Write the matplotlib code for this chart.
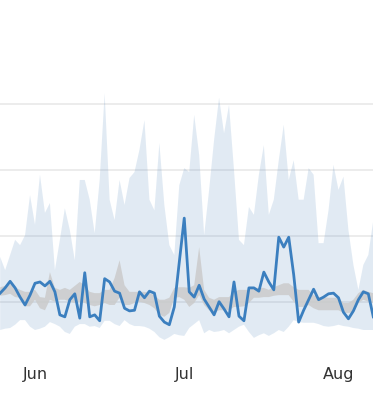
import numpy as np
import matplotlib
matplotlib.use("Agg")
import matplotlib.pyplot as plt
import matplotlib.dates as mdates

# daily series, starting 2023-05-25
start_date = "2023-05-25"
line_vals = [11.3, 12.1, 13.1, 12.1, 10.7, 9.5, 11.0, 12.8, 13.0, 12.4,
             13.1, 11.5, 8.0, 7.7, 10.3, 11.2, 7.5, 14.4, 7.7, 8.0,
             7.1, 13.5, 13.0, 11.6, 11.3, 9.0, 8.6, 8.7, 11.5, 10.6,
             11.6, 11.3, 7.8, 6.9, 6.5, 9.2, 16.0, 22.7, 11.5, 10.7,
             12.5, 10.4, 9.2, 8.0, 10.0, 8.9, 7.7, 13.0, 7.8, 7.1,
             12.1, 12.1, 11.6, 14.5, 13.0, 11.8, 19.8, 18.3, 19.8, 14.1,
             6.9, 8.7, 10.3, 11.9, 10.3, 10.7, 11.2, 11.3, 10.6, 8.4,
             7.4, 8.6, 10.3, 11.5, 11.2, 7.7]
band_hi = [16.8, 14.8, 17.1, 19.4, 18.6, 20.1, 26.2, 21.7, 29.3, 23.5,
           25.0, 14.8, 19.4, 24.2, 20.9, 16.3, 28.5, 28.5, 25.5, 20.4,
           28.5, 41.7, 25.5, 22.4, 28.5, 24.7, 28.8, 29.7, 33.1, 37.6,
           25.5, 23.9, 34.1, 24.7, 18.6, 17.1, 27.7, 30.3, 29.7, 38.4,
           32.3, 20.1, 27.0, 34.6, 41.0, 35.6, 39.9, 30.0, 19.4, 18.6,
           24.4, 23.2, 29.3, 33.8, 23.2, 25.5, 31.5, 36.9, 28.5, 31.5,
           25.5, 25.5, 30.3, 29.3, 18.9, 18.9, 23.9, 30.8, 27.0, 29.0,
           20.9, 15.6, 11.8, 15.6, 17.1, 22.4]
band_lo = [5.7, 5.9, 6.0, 6.5, 7.2, 7.2, 6.2, 5.7, 5.9, 6.2,
           6.9, 6.6, 6.2, 5.4, 5.1, 6.2, 6.6, 6.6, 6.2, 6.3,
           6.0, 7.1, 7.1, 6.6, 6.3, 7.2, 6.6, 6.3, 6.3, 6.2,
           5.9, 5.4, 4.6, 4.2, 4.6, 5.1, 4.9, 4.8, 6.0, 6.6,
           7.2, 5.2, 5.7, 5.4, 5.5, 5.7, 5.2, 5.7, 6.2, 6.5,
           5.4, 4.5, 4.9, 5.2, 4.8, 5.2, 5.7, 5.4, 6.2, 7.2,
           6.9, 6.8, 6.8, 6.8, 6.6, 6.3, 6.2, 6.3, 6.5, 6.3,
           6.2, 6.0, 5.9, 5.7, 5.7, 5.7]
gray_hi = [12.2, 12.4, 12.7, 12.2, 11.8, 11.5, 11.5, 11.8, 10.7, 10.6,
           14.5, 12.1, 11.8, 12.1, 11.8, 12.4, 13.0, 12.5, 11.5, 11.3,
           11.3, 11.8, 11.8, 13.6, 16.3, 12.5, 11.5, 11.5, 11.5, 11.5,
           11.3, 11.0, 10.3, 10.3, 10.6, 12.1, 12.2, 12.2, 12.1, 12.5,
           18.3, 11.8, 10.6, 10.3, 10.7, 10.7, 10.7, 11.5, 11.8, 11.8,
           11.8, 12.1, 12.1, 12.1, 11.8, 12.2, 12.5, 12.8, 12.8, 12.2,
           11.8, 11.8, 11.8, 11.0, 10.7, 10.7, 10.6, 10.6, 10.6, 9.8,
           9.8, 10.3, 11.3, 11.8, 11.5, 11.3]
gray_lo = [10.9, 11.0, 11.2, 10.7, 10.6, 9.3, 9.3, 10.3, 9.0, 8.7,
           10.3, 10.0, 10.3, 10.3, 10.0, 9.8, 10.0, 9.8, 9.5, 9.3,
           9.5, 9.8, 9.5, 9.5, 10.6, 9.5, 9.5, 9.8, 10.0, 9.8,
           9.5, 9.0, 8.0, 7.7, 8.3, 10.6, 10.7, 10.3, 9.2, 9.8,
           11.0, 9.5, 8.7, 8.3, 8.7, 8.7, 8.7, 9.2, 9.2, 9.3,
           9.8, 10.6, 10.6, 10.7, 10.7, 10.9, 11.0, 11.0, 11.0, 10.0,
           9.2, 9.2, 9.5, 9.0, 8.7, 8.7, 8.7, 8.7, 8.7, 8.3,
           8.3, 8.4, 9.8, 10.3, 10.0, 9.8]
tick_dates = ["2023-06-01", "2023-07-01", "2023-08-01"]
tick_labels = ["Jun", "Jul", "Aug"]
grid_vals = [10, 20, 30, 40]

dates = np.datetime64(start_date) + np.arange(len(line_vals)).astype("timedelta64[D]")

fig = plt.figure(figsize=(3.73, 4.20), dpi=100)
ax = fig.add_axes([0, 65 / 420, 1, 355 / 420])

ax.fill_between(dates, band_lo, band_hi, color="#4f86bd", alpha=0.17,
                linewidth=0, zorder=1)
ax.fill_between(dates, gray_lo, gray_hi, color="#cbcbcb", alpha=0.85,
                linewidth=0, zorder=2)
ax.plot(dates, line_vals, color="#3b7fbf", linewidth=2.0, zorder=3)

for g in grid_vals:
    ax.axhline(g, color="#e9e9e9", linewidth=1.2, zorder=0.5)

d0 = np.datetime64("2023-06-01")
ax.set_xlim(mdates.date2num(d0) - 7.035, mdates.date2num(d0) + 67.94)
ax.set_ylim(1.9, 55.85)

ax.set_xticks([mdates.date2num(np.datetime64(d)) for d in tick_dates])
ax.set_xticklabels(tick_labels, fontsize=11.5, color="#333333")
ax.tick_params(axis="x", length=0, pad=8.5)
ax.set_yticks([])
for s in ax.spines.values():
    s.set_visible(False)

fig.savefig("out.png", dpi=100)
